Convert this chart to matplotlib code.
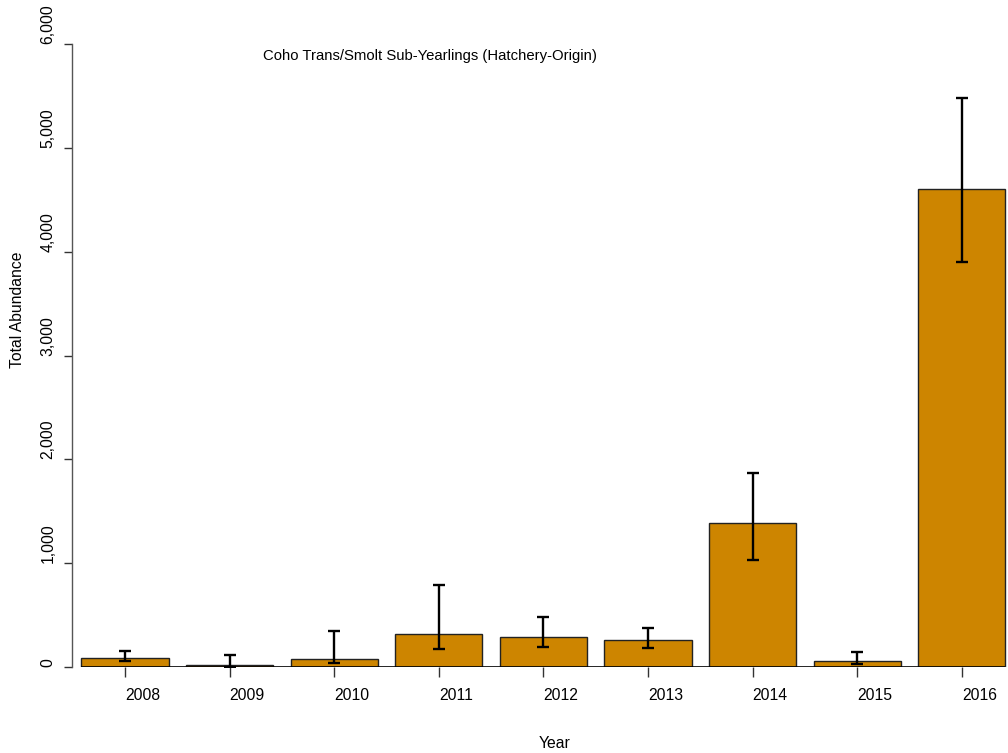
import matplotlib
matplotlib.use("Agg")
import matplotlib.pyplot as plt
import numpy as np

plt.rcParams['font.family'] = ['Liberation Sans', 'DejaVu Sans']

years = ["2008", "2009", "2010", "2011", "2012", "2013", "2014", "2015", "2016"]
abundance = [90, 15, 80, 315, 292, 257, 1384, 61, 4602]
lower_ci = [60, 0, 35, 173, 196, 183, 1031, 26, 3899]
upper_ci = [150, 118, 350, 790, 482, 373, 1869, 147, 5480]
y_ticks = [0, 1000, 2000, 3000, 4000, 5000, 6000]
y_tick_labels = ["0", "1,000", "2,000", "3,000", "4,000", "5,000", "6,000"]

W, H = 1008, 753
fig = plt.figure(figsize=(W / 100, H / 100), dpi=100)
ax = fig.add_axes([72 / W, (H - 667) / H, 1 - 72 / W, (667 - 44) / H])

x = np.arange(len(years))
bar_w = 1 / 1.2
vals = np.array(abundance)
err = np.vstack([vals - np.array(lower_ci), np.array(upper_ci) - vals])

ax.bar(x, vals, width=bar_w, color="#CD8500", edgecolor="#222222", linewidth=1.0, zorder=2)
ax.errorbar(x, vals, yerr=err, fmt="none", ecolor="black", elinewidth=1.7,
            capsize=4, capthick=1.7, zorder=3)
ax.plot([x[0] - bar_w / 2, x[-1] + bar_w / 2], [0, 0], color="black", lw=1.2, zorder=4,
        solid_capstyle="butt")

ax.set_xlim((72 - 125) / 104.6, (1008 - 125) / 104.6)
ax.set_ylim(0, 6000)

for s in ["top", "right", "bottom"]:
    ax.spines[s].set_visible(False)
ax.spines["left"].set_color("#555555")
ax.spines["left"].set_linewidth(1.0)

ax.set_yticks(y_ticks)
ax.set_yticklabels(y_tick_labels, rotation=90, rotation_mode="anchor",
                   ha="left", va="bottom", fontsize=11.3)
ax.tick_params(axis="y", direction="out", length=6, width=1.0, color="#333333", pad=6)

ax.set_xticks(x)
ax.set_xticklabels(years, ha="left", fontsize=11.3)
ax.tick_params(axis="x", direction="out", length=7, width=1.0, color="#333333", pad=8)

fig.text(263 / W, 1 - 56 / H, "Coho Trans/Smolt Sub-Yearlings (Hatchery-Origin)",
         ha="left", va="center", fontsize=10.7)
fig.text(539 / W, 1 - 744 / H, "Year", ha="left", va="center", fontsize=11.3)
fig.text(18 / W, 1 - 368 / H, "Total Abundance", rotation=90, ha="center", va="bottom",
         fontsize=11.3)

fig.savefig("out.png", dpi=100)
